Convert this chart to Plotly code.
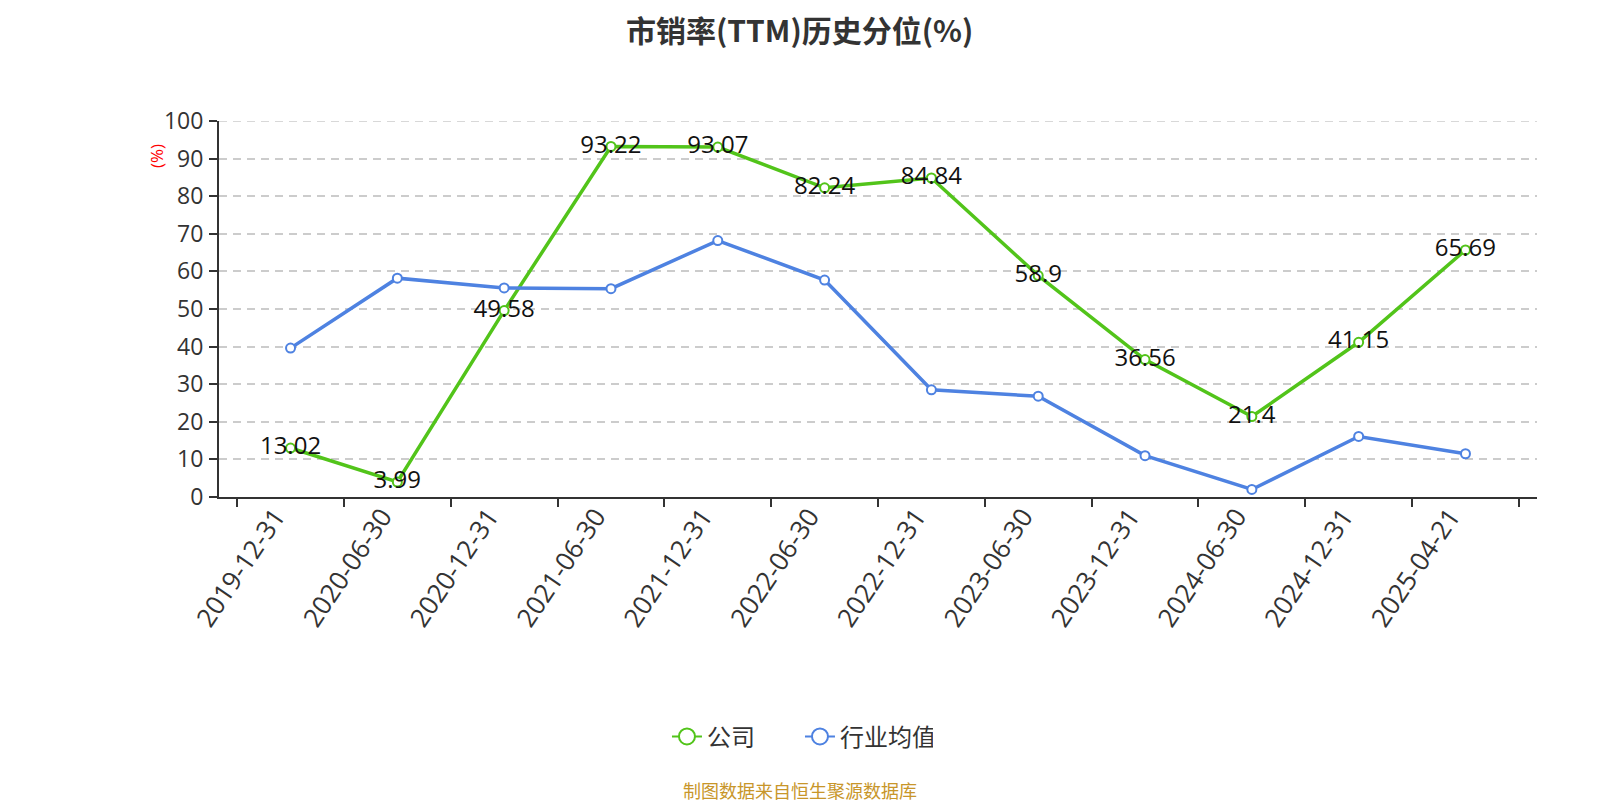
import plotly.graph_objects as go

dates = ["2019-12-31", "2020-06-30", "2020-12-31", "2021-06-30", "2021-12-31", "2022-06-30",
         "2022-12-31", "2023-06-30", "2023-12-31", "2024-06-30", "2024-12-31", "2025-04-21"]
company = [13.02, 3.99, 49.58, 93.22, 93.07, 82.24, 84.84, 58.9, 36.56, 21.4, 41.15, 65.69]
industry = [39.6, 58.2, 55.6, 55.4, 68.2, 57.7, 28.5, 26.8, 11.0, 2.0, 16.1, 11.5]
series_names = ["公司", "行业均值"]
title_text = "市销率(TTM)历史分位(%)"

GREEN = "#52c41a"
BLUE = "#4e82e1"
CJK = "Noto Sans CJK SC"
LAT = "Open Sans, Noto Sans CJK SC"

fig = go.Figure()
fig.add_trace(go.Scatter(
    x=dates, y=company, name=series_names[0], mode="lines+markers+text", showlegend=False,
    line=dict(color=GREEN, width=3.5),
    marker=dict(symbol="circle", size=9, color="white", line=dict(color=GREEN, width=2)),
    text=[str(v) for v in company], textposition="middle center",
    textfont=dict(size=24, color="#111111", family=LAT),
))
fig.add_trace(go.Scatter(
    x=dates, y=industry, name=series_names[1], mode="lines+markers", showlegend=False,
    line=dict(color=BLUE, width=3.5),
    marker=dict(symbol="circle", size=9, color="white", line=dict(color=BLUE, width=2)),
))
# legend entries
for nm, col in zip(series_names, [GREEN, BLUE]):
    fig.add_trace(go.Scatter(
        x=[None], y=[None], name=nm, mode="lines+markers",
        line=dict(color=col, width=2),
        marker=dict(symbol="circle", size=16, color="white", line=dict(color=col, width=2)),
    ))

fig.update_layout(
    width=1600, height=800,
    paper_bgcolor="white", plot_bgcolor="white",
    margin=dict(l=211, r=71, t=113, b=311),
    font=dict(family=CJK, color="#333333"),
    showlegend=True,
    legend=dict(orientation="h", x=0.4408, xanchor="center", y=-0.638, yanchor="middle",
                entrywidth=88, font=dict(size=24, color="#333333", family=CJK)),
    xaxis=dict(type="category", tickangle=-56, tickson="boundaries",
               ticks="outside", ticklen=8, tickcolor="#333333", tickwidth=1.5,
               ticklabelshift=-15, ticklabelstandoff=-8,
               showline=True, linecolor="#333333", linewidth=2, showgrid=False,
               tickfont=dict(size=26, color="#333333", family=LAT)),
    yaxis=dict(range=[0, 100], tickvals=list(range(0, 101, 10)), ticks="outside", ticklen=8,
               tickcolor="#333333", tickwidth=1.5, ticklabelstandoff=1,
               showline=True, linecolor="#333333", linewidth=2,
               showgrid=True, gridcolor="#cccccc", griddash="8px,6px", gridwidth=1.5,
               zeroline=False, tickfont=dict(size=23, color="#333333", family=LAT)),
    shapes=[dict(type="line", xref="paper", x0=0, x1=1, yref="y", y0=100, y1=100,
                 line=dict(color="#cccccc", width=1.5, dash="8px,6px"), layer="below")],
)

fig.add_annotation(text=title_text, xref="paper", yref="paper", x=0.4408, y=1.245,
                   xanchor="center", yanchor="middle", showarrow=False,
                   font=dict(size=30, color="#333333", family=CJK, weight="bold"))
fig.add_annotation(text="(%)", xref="paper", yref="paper", x=-0.047, y=0.907,
                   xanchor="center", yanchor="middle",
                   textangle=-90, showarrow=False, font=dict(size=17, color="red", family=LAT))
fig.add_annotation(text="制图数据来自恒生聚源数据库", xref="paper", yref="paper",
                   x=0.4408, y=-0.779, xanchor="center", yanchor="middle", showarrow=False,
                   font=dict(size=18, color="#c8962a", family=CJK))

fig.write_html("out.html")
